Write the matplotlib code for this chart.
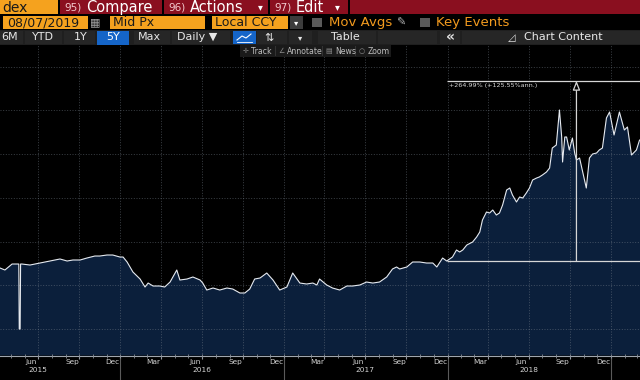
import matplotlib
matplotlib.use("Agg")
import matplotlib.pyplot as plt
import matplotlib.dates as mdates
from matplotlib.patches import Rectangle
from matplotlib.lines import Line2D
import pandas as pd
import numpy as np

plt.rcParams['font.family'] = ['DejaVu Sans']

# ---------------- data ----------------
dates = [
    "2015-04-07", "2015-04-18", "2015-05-04", "2015-05-15", "2015-05-19", "2015-05-20",
    "2015-05-22", "2015-05-23", "2015-05-26", "2015-06-13", "2015-07-05", "2015-07-28",
    "2015-08-19", "2015-09-04", "2015-09-17", "2015-10-03", "2015-10-18", "2015-11-05",
    "2015-11-16", "2015-12-02", "2015-12-15", "2015-12-31", "2016-01-07", "2016-01-16",
    "2016-01-29", "2016-02-14", "2016-02-25", "2016-03-03", "2016-03-14", "2016-03-29",
    "2016-04-09", "2016-04-21", "2016-05-06", "2016-05-13", "2016-05-29", "2016-06-11",
    "2016-06-27", "2016-07-03", "2016-07-12", "2016-07-26", "2016-08-10", "2016-08-26",
    "2016-09-08", "2016-09-24", "2016-10-05", "2016-10-16", "2016-10-27", "2016-11-08",
    "2016-11-23", "2016-12-07", "2016-12-22", "2017-01-07", "2017-01-20", "2017-02-05",
    "2017-02-20", "2017-03-06", "2017-03-15", "2017-03-21", "2017-04-06", "2017-04-19",
    "2017-05-05", "2017-05-21", "2017-06-03", "2017-06-19", "2017-07-04", "2017-07-18",
    "2017-08-02", "2017-08-18", "2017-08-31", "2017-09-09", "2017-09-16", "2017-10-02",
    "2017-10-15", "2017-10-31", "2017-11-15", "2017-11-29", "2017-12-08", "2017-12-21",
    "2017-12-30", "2018-01-12", "2018-01-21", "2018-01-28", "2018-02-04", "2018-02-13",
    "2018-02-26", "2018-03-07", "2018-03-14", "2018-03-20", "2018-03-29", "2018-04-05",
    "2018-04-12", "2018-04-20", "2018-04-27", "2018-05-04", "2018-05-13", "2018-05-20",
    "2018-05-26", "2018-06-04", "2018-06-11", "2018-06-18", "2018-06-26", "2018-07-03",
    "2018-07-10", "2018-07-19", "2018-07-25", "2018-08-01", "2018-08-10", "2018-08-17",
    "2018-08-23", "2018-09-01", "2018-09-08", "2018-09-13", "2018-09-15", "2018-09-20",
    "2018-09-24", "2018-09-30", "2018-10-07", "2018-10-12", "2018-10-16", "2018-10-23",
    "2018-10-29", "2018-11-07", "2018-11-14", "2018-11-21", "2018-11-30", "2018-12-06",
    "2018-12-13", "2018-12-22", "2018-12-29", "2019-01-08", "2019-01-20", "2019-01-31",
    "2019-02-07", "2019-02-16", "2019-02-27", "2019-03-06", "2019-03-17",
]
values = [
    139.6, 135.0, 148.7, 148.7, 148.7, 0.0,
    0.0, 148.7, 148.7, 146.4, 151.0, 155.6,
    160.2, 155.6, 157.9, 157.9, 162.4, 167.0,
    167.0, 169.3, 169.3, 164.7, 164.7, 153.3,
    130.4, 114.4, 96.1, 105.2, 98.4, 98.4,
    96.1, 107.5, 135.0, 112.1, 114.4, 119.0,
    112.1, 105.2, 89.2, 93.8, 89.2, 93.8,
    91.5, 82.4, 82.4, 91.5, 114.4, 116.7,
    128.1, 112.1, 89.2, 96.1, 128.1, 105.2,
    103.0, 105.2, 100.7, 114.4, 100.7, 93.8,
    89.2, 98.4, 98.4, 100.7, 107.5, 105.2,
    107.5, 119.0, 137.3, 141.9, 137.3, 141.9,
    153.3, 153.3, 151.0, 151.0, 141.9, 162.4,
    155.6, 164.7, 180.8, 176.2, 180.8, 192.2,
    199.1, 210.5, 221.9, 249.4, 267.7, 265.4,
    272.3, 260.8, 265.4, 283.7, 318.0, 322.6,
    306.6, 290.6, 302.0, 299.7, 311.2, 322.6,
    340.9, 345.5, 347.8, 352.4, 359.2, 368.4,
    414.1, 421.0, 501.1, 439.3, 382.1, 439.3,
    439.3, 409.6, 437.0, 402.7, 386.7, 391.2,
    363.8, 322.6, 391.2, 400.4, 402.7, 409.6,
    414.1, 482.8, 496.5, 443.9, 496.5, 455.3,
    462.2, 398.1, 409.6, 432.4, 432.4,
]
month_labels = ["Mar", "Jun", "Sep", "Dec"]
years = [2015, 2016, 2017, 2018]
pct_change = 264.99
pct_ann = 125.55
base_date = "2017-12-30"
measure_date = "2018-10-16"

dts = pd.to_datetime(dates)
vals = np.array(values)

# ---------------- figure ----------------
W, H = 640, 380
fig = plt.figure(figsize=(6.4, 3.8), dpi=100, facecolor='black')

ORANGE = '#f5a21e'
MAROON = '#8a0f1f'
ORTEXT = '#f29a1e'


def box(x0, y0, x1, y1, color, z=1):
    fig.patches.append(Rectangle((x0 / W, 1 - y1 / H), (x1 - x0) / W, (y1 - y0) / H,
                                 transform=fig.transFigure, facecolor=color,
                                 edgecolor='none', zorder=z))


def txt(x, y, s, color, size, ha='left', z=3, **kw):
    fig.text(x / W, 1 - y / H, s, color=color, fontsize=size, ha=ha, va='center',
             zorder=z, **kw)


# ---------------- chart axes ----------------
ax = fig.add_axes([0, (H - 355.5) / H, 1, (355.5 - 45) / H])
ax.set_facecolor('black')
ax.set_xlim(pd.Timestamp("2015-04-07"), pd.Timestamp("2019-03-07"))
ax.set_ylim(-60.6, 649.8)
ymin = ax.get_ylim()[0]

ax.fill_between(dts, vals, ymin, color='#0b1f3b', lw=0, zorder=1)
ax.plot(dts, vals, color='#e6eaf0', lw=0.8, zorder=4)

# grid
ax.set_yticks([0, 100, 200, 300, 400, 500, 600])
ax.xaxis.set_major_locator(mdates.MonthLocator(bymonth=[1, 4, 7, 10]))
ax.xaxis.set_major_formatter(plt.NullFormatter())
ax.xaxis.set_minor_locator(mdates.MonthLocator(bymonth=[3, 6, 9, 12], bymonthday=15))
ax.xaxis.set_minor_formatter(mdates.DateFormatter('%b'))
ax.grid(True, which='major', color='#7d8590', alpha=0.55, lw=0.6,
        linestyle=(0, (1.2, 2.0)), zorder=3)
ax.tick_params(axis='y', left=False, labelleft=False)
ax.tick_params(axis='x', which='major', length=2, color='#9aa0a8', direction='out')
ax.tick_params(axis='x', which='minor', length=0, pad=2.5, labelsize=5.3,
               labelcolor='#d4d4d4')
for sp in ['top', 'left', 'right']:
    ax.spines[sp].set_visible(False)
ax.spines['bottom'].set_color('#a0a6ae')
ax.spines['bottom'].set_linewidth(0.8)

# monthly small ticks
months = pd.date_range("2015-05-01", "2019-03-01", freq='MS')
ax.plot(months, np.zeros(len(months)), transform=ax.get_xaxis_transform(),
        ls='none', marker='|', ms=2.5, mew=0.6, color='#8a9099', clip_on=False, zorder=5)

# year labels and separators
xt = ax.get_xaxis_transform()
for y in years:
    ax.text(pd.Timestamp(f"{y}-07-01"), -0.047, str(y), transform=xt, ha='center',
            va='center', fontsize=5.3, color='#d4d4d4', clip_on=False)
for y in years[1:] + [years[-1] + 1]:
    ax.plot([pd.Timestamp(f"{y}-01-01")] * 2, [-0.008, -0.085], transform=xt,
            color='#5a5a5a', lw=0.8, clip_on=False)

# measurement annotation
base_val = float(np.interp(pd.Timestamp(base_date).value, dts.asi8, vals))
top_val = base_val * (1 + pct_change / 100)
xr = ax.get_xlim()[1]
ax.hlines([base_val, top_val], mdates.date2num(pd.Timestamp(base_date)), xr,
          color='#d6d6d6', lw=0.9, zorder=6)
ax.annotate('', xy=(pd.Timestamp(measure_date), top_val),
            xytext=(pd.Timestamp(measure_date), base_val),
            arrowprops=dict(arrowstyle='-|>,head_length=0.55,head_width=0.22',
                            ec='#d6d6d6', fc='black', lw=0.9, shrinkA=0, shrinkB=0),
            zorder=6)
ax.annotate(f"+{pct_change:.2f}% (+{pct_ann:.2f}%ann.)",
            xy=(pd.Timestamp(base_date), top_val), xytext=(1.5, -1.3),
            textcoords='offset points', ha='left', va='top', fontsize=4.6,
            color='#d8d8d8', zorder=7)

# ---------------- header row 1 ----------------
box(0, 0, 58, 14, ORANGE)
txt(2, 7.5, "dex", '#1a1a1a', 10)
box(60, 0, 162, 14, MAROON)
txt(64, 7.5, "95)", '#f2c9cd', 7.5)
txt(86, 7.5, "Compare", 'white', 10.5)
box(164, 0, 268, 14, MAROON)
txt(168, 7.5, "96)", '#f2c9cd', 7.5)
txt(190, 7.5, "Actions", 'white', 10.5)
txt(260, 7.5, "▾", 'white', 7, ha='center')
box(270, 0, 348, 14, MAROON)
txt(274, 7.5, "97)", '#f2c9cd', 7.5)
txt(296, 7.5, "Edit", 'white', 10.5)
txt(337, 7.5, "▾", 'white', 7, ha='center')
box(350, 0, 640, 14, MAROON)

# ---------------- header row 2 ----------------
box(3, 16, 88, 29, ORANGE)
txt(7, 22.5, "08/07/2019", '#1a1a1a', 9)
txt(95, 22.5, "▦", '#a0a0a0', 8, ha='center')
box(110, 16, 205, 29, ORANGE)
txt(113, 22.5, "Mid Px", '#1a1a1a', 9)
box(212, 16, 288, 29, ORANGE)
txt(215, 22.5, "Local CCY", '#1a1a1a', 9)
box(290, 16, 303, 29, '#3c3c3c')
txt(296.5, 22.5, "▾", 'white', 6, ha='center')
box(312, 18, 322, 27, '#5a5a5a')
txt(329, 22.5, "Mov Avgs", ORTEXT, 9.5)
txt(401, 22.5, "✎", '#b0b0b0', 8, ha='center')
box(420, 18, 430, 27, '#5a5a5a')
txt(436, 22.5, "Key Events", ORTEXT, 9.5)

# ---------------- header row 3 ----------------
box(0, 30, 640, 44.5, '#1f1f1f')
for x0, x1 in [(0, 23), (25, 62), (64, 95), (134, 170), (172, 230), (257, 287),
               (289, 312), (318, 376), (378, 437), (440, 460), (462, 640)]:
    box(x0, 31, x1, 44, '#262626', z=1.2)
box(97, 30.5, 129, 44.5, '#1565c8', z=1.3)
box(233, 31, 256, 44, '#1565c8', z=1.3)
txt(1, 37.5, "6M", '#e6e6e6', 8)
txt(43, 37.5, "YTD", '#e6e6e6', 8, ha='center')
txt(81, 37.5, "1Y", '#e6e6e6', 8, ha='center')
txt(113, 37.5, "5Y", 'white', 8, ha='center')
txt(149, 37.5, "Max", '#e6e6e6', 8, ha='center')
txt(177, 37.5, "Daily ▼", '#e6e6e6', 8)
fig.lines.append(Line2D(np.array([237, 242, 246, 251]) / W,
                        1 - np.array([40, 36, 38, 34]) / H, color='white', lw=0.8,
                        transform=fig.transFigure, zorder=4))
fig.lines.append(Line2D(np.array([237, 252]) / W, 1 - np.array([41.5, 41.5]) / H,
                        color='white', lw=0.6, transform=fig.transFigure, zorder=4))
txt(269, 37.5, "⇅", '#e6e6e6', 8, ha='center')
txt(300, 37.5, "▾", '#e6e6e6', 6, ha='center')
txt(345, 37.5, "Table", '#e6e6e6', 8, ha='center')
txt(450, 37, "«", '#e6e6e6', 10, ha='center', fontweight='bold')
txt(512, 37.5, "◿", '#e6e6e6', 7, ha='center')
txt(524, 37.5, "Chart Content", '#e6e6e6', 8)

# ---------------- chart toolbar ----------------
box(240, 45, 391, 57, '#1a1a1a', z=2)
for xs in [275, 322, 355]:
    box(xs, 46, xs + 0.8, 56, '#333333', z=2.1)
txt(246, 51, "✛", '#8a8a8a', 5, ha='center')
txt(251, 51, "Track", '#bdbdbd', 5.6)
txt(282, 51, "∠", '#8a8a8a', 5, ha='center')
txt(287, 51, "Annotate", '#bdbdbd', 5.6)
txt(329, 51, "▤", '#8a8a8a', 5, ha='center')
txt(335, 51, "News", '#bdbdbd', 5.6)
txt(362, 51, "○", '#8a8a8a', 5, ha='center')
txt(368, 51, "Zoom", '#bdbdbd', 5.6)

fig.savefig("out.png", dpi=100, facecolor='black')
